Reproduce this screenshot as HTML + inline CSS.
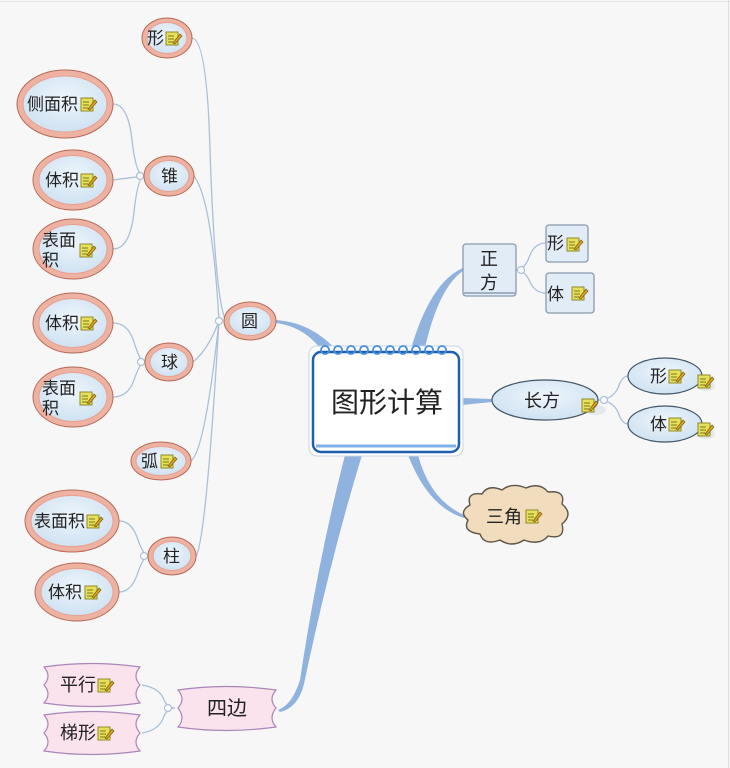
<!DOCTYPE html>
<html><head><meta charset="utf-8"><style>
html,body{margin:0;padding:0;background:#f7f7f7;}
svg{display:block;}
text{font-family:"Liberation Sans","Noto Sans CJK SC",sans-serif;fill:#222;}
</style></head><body>
<svg width="730" height="768" viewBox="0 0 730 768" xmlns="http://www.w3.org/2000/svg">
<defs>
<g id="ic">
<rect x="0" y="1" width="12" height="13" fill="#e6e05a" stroke="#8f8a2a" stroke-width="1"/>
<line x1="2" y1="5" x2="8" y2="5" stroke="#7a7a20"/>
<line x1="2" y1="8" x2="8" y2="8" stroke="#7a7a20"/>
<line x1="2" y1="11" x2="7" y2="11" stroke="#7a7a20"/>
<path d="M7 12 L14 3 L16 5 L9 13 Z" fill="#d9a520" stroke="#7a5a10" stroke-width="0.7"/>
</g>
<radialGradient id="bl" cx="50%" cy="40%" r="60%"><stop offset="0" stop-color="#eef5fb"/><stop offset="1" stop-color="#cfe2f2"/></radialGradient>
</defs>
<rect x="0" y="0" width="730" height="768" fill="#f7f7f7"/>
<line x1="0" y1="1.5" x2="730" y2="1.5" stroke="#e4e4e4"/>
<line x1="728.5" y1="0" x2="728.5" y2="768" stroke="#e0e0e0"/>

<g fill="#8fb3de">
<path d="M338 352 Q312 322 275 320 L275 323 Q306 326 326 356 Z"/>
<path d="M345 455 Q318 560 300 680 Q292 705 278 710 L280 712 Q298 708 304 684 Q330 560 362 455 Z"/>
<path d="M410 352 Q430 282 463 268 L463 271 Q438 288 424 352 Z"/>
<path d="M462 398 L492 399 L492 402 L462 405 Z"/>
<path d="M418 455 Q430 500 464 515 L464 518 Q428 507 408 455 Z"/>
</g>

<g fill="none" stroke="#a9c0d8" stroke-width="1.3">
<path d="M226 321 Q215 300 210 150 Q207 40 192 38"/>
<path d="M219 321 Q212 200 194 176"/>
<path d="M219 321 Q208 350 193 362"/>
<path d="M219 321 Q205 450 191 461"/>
<path d="M219 321 Q206 540 196 556"/>
<path d="M113 104 Q128 104 132 140 Q136 176 144 176"/>
<path d="M113 180 L144 176"/>
<path d="M113 249 Q130 249 134 212 Q138 176 144 176"/>
<path d="M113 323 Q128 323 134 342 Q140 362 145 362"/>
<path d="M113 397 Q128 397 134 380 Q140 362 145 362"/>
<path d="M119 521 Q132 521 138 540 Q144 556 148 556"/>
<path d="M119 592 Q132 592 138 572 Q144 556 148 556"/>
<path d="M142 685 Q160 688 164 700 Q168 708 175 708"/>
<path d="M142 733 Q160 730 164 716 Q168 708 175 708"/>
<path d="M516 270 Q525 270 530 255 Q535 243 546 243"/>
<path d="M516 270 Q525 270 530 282 Q535 293 546 293"/>
<path d="M598 400 Q612 400 618 388 Q622 376 628 376"/>
<path d="M598 400 Q612 400 618 412 Q622 424 628 424"/>
</g>
<g fill="#fff" stroke="#a9c0d8" stroke-width="1.2">
<circle cx="219" cy="321" r="3.5"/><circle cx="140" cy="176" r="3.5"/><circle cx="141" cy="362" r="3.5"/>
<circle cx="144" cy="556" r="3.5"/><circle cx="168" cy="708" r="3.5"/><circle cx="521" cy="270" r="3.5"/><circle cx="604" cy="400" r="3.5"/>
</g>

<g>
<ellipse cx="167" cy="38" rx="25" ry="20" fill="#eeb2a2" stroke="#b66a58"/><ellipse cx="167" cy="38" rx="20" ry="15.5" fill="url(#bl)" stroke="#e9a090"/>
<ellipse cx="65" cy="104" rx="48" ry="34" fill="#eeb2a2" stroke="#b66a58"/><ellipse cx="65" cy="104" rx="42" ry="28" fill="url(#bl)" stroke="#e9a090"/>
<ellipse cx="73" cy="180" rx="40" ry="30" fill="#eeb2a2" stroke="#b66a58"/><ellipse cx="73" cy="180" rx="34" ry="24.5" fill="url(#bl)" stroke="#e9a090"/>
<ellipse cx="73" cy="249" rx="40" ry="30" fill="#eeb2a2" stroke="#b66a58"/><ellipse cx="73" cy="249" rx="34" ry="24.5" fill="url(#bl)" stroke="#e9a090"/>
<ellipse cx="169" cy="176" rx="25" ry="20" fill="#eeb2a2" stroke="#b66a58"/><ellipse cx="169" cy="176" rx="20" ry="15.5" fill="url(#bl)" stroke="#e9a090"/>
<ellipse cx="250" cy="321" rx="26" ry="19" fill="#eeb2a2" stroke="#b66a58"/><ellipse cx="250" cy="321" rx="21" ry="14.5" fill="url(#bl)" stroke="#e9a090"/>
<ellipse cx="73" cy="323" rx="40" ry="30" fill="#eeb2a2" stroke="#b66a58"/><ellipse cx="73" cy="323" rx="34" ry="24.5" fill="url(#bl)" stroke="#e9a090"/>
<ellipse cx="73" cy="397" rx="40" ry="30" fill="#eeb2a2" stroke="#b66a58"/><ellipse cx="73" cy="397" rx="34" ry="24.5" fill="url(#bl)" stroke="#e9a090"/>
<ellipse cx="169" cy="362" rx="24" ry="19" fill="#eeb2a2" stroke="#b66a58"/><ellipse cx="169" cy="362" rx="19" ry="14.5" fill="url(#bl)" stroke="#e9a090"/>
<ellipse cx="161" cy="461" rx="30" ry="19" fill="#eeb2a2" stroke="#b66a58"/><ellipse cx="161" cy="461" rx="25" ry="14.5" fill="url(#bl)" stroke="#e9a090"/>
<ellipse cx="72" cy="521" rx="47" ry="31" fill="#eeb2a2" stroke="#b66a58"/><ellipse cx="72" cy="521" rx="41" ry="25.5" fill="url(#bl)" stroke="#e9a090"/>
<ellipse cx="77" cy="592" rx="42" ry="29" fill="#eeb2a2" stroke="#b66a58"/><ellipse cx="77" cy="592" rx="36" ry="23.5" fill="url(#bl)" stroke="#e9a090"/>
<ellipse cx="172" cy="556" rx="24" ry="19" fill="#eeb2a2" stroke="#b66a58"/><ellipse cx="172" cy="556" rx="19" ry="14.5" fill="url(#bl)" stroke="#e9a090"/>
</g>
<g font-size="17">
<text x="147" y="44">形</text><use href="#ic" x="166" y="31"/>
<text x="27" y="110">侧面积</text><use href="#ic" x="81" y="97"/>
<text x="45" y="186">体积</text><use href="#ic" x="81" y="173"/>
<text x="42" y="246">表面</text><text x="42" y="266">积</text><use href="#ic" x="80" y="243"/>
<text x="161" y="182">锥</text>
<text x="241" y="327">圆</text>
<text x="45" y="329">体积</text><use href="#ic" x="81" y="316"/>
<text x="42" y="394">表面</text><text x="42" y="414">积</text><use href="#ic" x="80" y="391"/>
<text x="161" y="368">球</text>
<text x="141" y="467">弧</text><use href="#ic" x="161" y="454"/>
<text x="34" y="527">表面积</text><use href="#ic" x="87" y="514"/>
<text x="48" y="598">体积</text><use href="#ic" x="85" y="585"/>
<text x="163" y="562">柱</text>
</g>

<g fill="#fbe3ee" stroke="#a985b8" stroke-width="1.2">
<path d="M44 667 Q91 660 140 667 Q132 676 140 685 Q132 694 140 703 Q91 710 44 703 Q52 694 44 685 Q52 676 44 667 Z"/>
<path d="M44 715 Q91 708 140 715 Q132 724 140 733 Q132 742 140 751 Q91 758 44 751 Q52 742 44 733 Q52 724 44 715 Z"/>
<path d="M178 690 Q226 683 276 690 Q268 699 276 708 Q268 718 276 727 Q226 734 178 727 Q186 718 178 708 Q186 699 178 690 Z"/>
</g>
<g font-size="18">
<text x="60" y="691">平行</text><use href="#ic" x="98" y="678"/>
<text x="60" y="739">梯形</text><use href="#ic" x="98" y="726"/>
<text x="207" y="715" font-size="20">四边</text>
</g>

<rect x="309" y="346" width="154" height="110" rx="8" fill="#fff" stroke="#c8d4e0" stroke-width="1"/>
<rect x="313" y="352" width="146" height="100" rx="8" fill="#fff" stroke="#1f5fae" stroke-width="2.5"/>
<path d="M316 446 L456 446" stroke="#7fb0e8" stroke-width="3"/>
<g fill="none" stroke="#4a90d9" stroke-width="1.8">
<path d="M325 354 a4 4 0 1 1 0.1 0 M338 354 a4 4 0 1 1 0.1 0 M351 354 a4 4 0 1 1 0.1 0 M364 354 a4 4 0 1 1 0.1 0 M377 354 a4 4 0 1 1 0.1 0 M390 354 a4 4 0 1 1 0.1 0 M403 354 a4 4 0 1 1 0.1 0 M416 354 a4 4 0 1 1 0.1 0 M429 354 a4 4 0 1 1 0.1 0 M442 354 a4 4 0 1 1 0.1 0"/>
</g>
<text x="331" y="412" font-size="28">图形计算</text>

<rect x="463" y="244" width="53" height="52" rx="3" fill="#e2ecf6" stroke="#8a9ab0" stroke-width="1.3"/>
<line x1="464" y1="293" x2="515" y2="293" stroke="#a0b0c4" stroke-width="2"/>
<text x="480" y="265" font-size="18">正</text><text x="480" y="289" font-size="18">方</text>
<rect x="546" y="225" width="42" height="37" rx="3" fill="#e2ecf6" stroke="#8a9ab0" stroke-width="1.3"/>
<text x="547" y="249" font-size="17">形</text><use href="#ic" x="567" y="237"/>
<rect x="546" y="273" width="48" height="40" rx="3" fill="#e2ecf6" stroke="#8a9ab0" stroke-width="1.3"/>
<text x="547" y="300" font-size="17">体</text><use href="#ic" x="572" y="286"/>

<ellipse cx="596" cy="410" rx="10" ry="5" fill="#e4e8ee"/>
<ellipse cx="545" cy="400" rx="53" ry="20" fill="url(#bl)" stroke="#445566" stroke-width="1.2"/>
<use href="#ic" x="582" y="398"/>
<text x="524" y="407" font-size="18">长方</text>
<ellipse cx="706" cy="386" rx="9" ry="5" fill="#e4e8ee"/>
<ellipse cx="665" cy="376" rx="37" ry="18" fill="url(#bl)" stroke="#445566" stroke-width="1.2"/>
<text x="650" y="382" font-size="17">形</text><use href="#ic" x="669" y="369"/><use href="#ic" x="698" y="374"/>
<ellipse cx="706" cy="434" rx="9" ry="5" fill="#e4e8ee"/>
<ellipse cx="665" cy="424" rx="37" ry="18" fill="url(#bl)" stroke="#445566" stroke-width="1.2"/>
<text x="650" y="430" font-size="17">体</text><use href="#ic" x="669" y="417"/><use href="#ic" x="698" y="422"/>

<path d="M470 505 Q466 492 482 494 Q488 484 502 490 Q512 482 526 488 Q540 482 548 492 Q566 490 562 504 Q574 514 562 524 Q566 540 548 536 Q540 546 524 540 Q512 548 500 540 Q484 546 480 534 Q462 532 468 520 Q458 512 470 505 Z" fill="#f1dcbd" stroke="#5c5548" stroke-width="1.4"/>
<text x="486" y="523" font-size="18">三角</text><use href="#ic" x="526" y="509"/>
</svg>
</body></html>
